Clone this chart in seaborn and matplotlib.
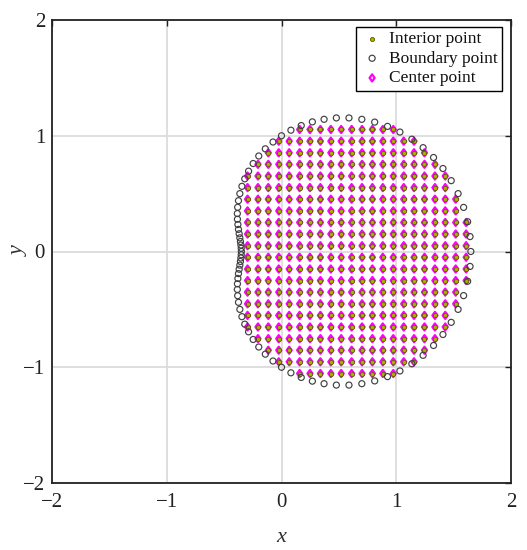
import numpy as np
import pandas as pd
import matplotlib
matplotlib.use("Agg")
import matplotlib.pyplot as plt
import seaborn as sns
from matplotlib.path import Path

# ---- data ----
boundary_x = [1.650, 1.643, 1.622, 1.587, 1.539, 1.479, 1.407, 1.325, 1.234, 1.136,
              1.032, 0.924, 0.812, 0.700, 0.588, 0.478, 0.371, 0.269, 0.172, 0.082,
              0.000, -0.074, -0.141, -0.198, -0.247, -0.287, -0.320, -0.345, -0.363, -0.375,
              -0.382, -0.385, -0.384, -0.380, -0.375, -0.369, -0.363, -0.358, -0.354, -0.351,
              -0.350, -0.351, -0.354, -0.358, -0.363, -0.369, -0.375, -0.380, -0.384, -0.385,
              -0.382, -0.375, -0.363, -0.345, -0.320, -0.287, -0.247, -0.198, -0.141, -0.074,
              0.000, 0.082, 0.172, 0.269, 0.371, 0.478, 0.588, 0.700, 0.812, 0.924,
              1.032, 1.136, 1.234, 1.325, 1.407, 1.479, 1.539, 1.587, 1.622, 1.643]
boundary_y = [0.000, 0.129, 0.257, 0.381, 0.500, 0.612, 0.717, 0.812, 0.897, 0.970,
              1.032, 1.081, 1.118, 1.142, 1.154, 1.154, 1.142, 1.120, 1.088, 1.048,
              1.000, 0.946, 0.887, 0.825, 0.760, 0.694, 0.628, 0.563, 0.500, 0.439,
              0.382, 0.328, 0.279, 0.233, 0.191, 0.153, 0.118, 0.086, 0.056, 0.028,
              0.000, -0.028, -0.056, -0.086, -0.118, -0.153, -0.191, -0.233, -0.279, -0.328,
              -0.382, -0.439, -0.500, -0.563, -0.628, -0.694, -0.760, -0.825, -0.887, -0.946,
              -1.000, -1.048, -1.088, -1.120, -1.142, -1.154, -1.154, -1.142, -1.118, -1.081,
              -1.032, -0.970, -0.897, -0.812, -0.717, -0.612, -0.500, -0.381, -0.257, -0.129]

grid_x = [-0.296, -0.205, -0.115, -0.024, 0.067, 0.158, 0.248, 0.339, 0.430, 0.520,
          0.611, 0.702, 0.792, 0.883, 0.974, 1.065, 1.155, 1.246, 1.337, 1.427,
          1.518, 1.609]
grid_y = [-1.054, -0.953, -0.853, -0.753, -0.652, -0.552, -0.452, -0.351, -0.251, -0.151,
          -0.050, 0.050, 0.151, 0.251, 0.351, 0.452, 0.552, 0.652, 0.753, 0.853,
          0.953, 1.054]

ticks = [-2, -1, 0, 1, 2]
labels = ["Interior point", "Boundary point", "Center point"]

# ---- build tables ----
bnd = pd.DataFrame({"x": boundary_x, "y": boundary_y})
poly = Path(np.column_stack([boundary_x, boundary_y]))
gx, gy = np.meshgrid(grid_x, grid_y)
pts = np.column_stack([gx.ravel(), gy.ravel()])
inside = poly.contains_points(pts)
interior = pd.DataFrame(pts[inside], columns=["x", "y"])

sns.set_theme(style="white")
plt.rcParams["font.family"] = ["Liberation Serif", "DejaVu Serif"]

fig = plt.figure(figsize=(5.27, 5.5), dpi=100)
ax = fig.add_axes([52 / 527, (550 - 483) / 550, 459 / 527, 463 / 550])

diamond = Path([(0, 1), (0.72, 0), (0, -1), (-0.72, 0), (0, 1)],
               [Path.MOVETO, Path.LINETO, Path.LINETO, Path.LINETO, Path.CLOSEPOLY])

sns.scatterplot(data=interior, x="x", y="y", ax=ax, marker="o", s=9,
                color="#b0b000", edgecolor="#5e5e00", linewidth=0.6,
                label=labels[0], zorder=3)
c_int = ax.collections[-1]

sns.scatterplot(data=bnd, x="x", y="y", ax=ax, marker="o", s=19,
                color="white", edgecolor="#404040", linewidth=0.85,
                label=labels[1], zorder=4)
c_bnd = ax.collections[-1]
c_bnd.set_facecolor("none")
c_bnd.set_edgecolor("#404040")

sns.scatterplot(data=interior, x="x", y="y", ax=ax, marker=diamond, s=26,
                color="white", edgecolor="#ff00ff", linewidth=1.6,
                label=labels[2], zorder=2)
c_cen = ax.collections[-1]
c_cen.set_facecolor("none")
c_cen.set_edgecolor("#ff00ff")

ax.set_xlim(-2, 2)
ax.set_ylim(-2, 2)
ax.set_xticks(ticks)
ax.set_yticks(ticks)
ax.set_xticklabels(["\u22122", "\u22121", "0", "1", "2"])
ax.set_yticklabels(["\u22122", "\u22121", "0", "1", "2"])
ax.grid(True, color="#dcdcdc", linewidth=1.3)
ax.set_axisbelow(True)
for sp in ax.spines.values():
    sp.set_color("#222222")
    sp.set_linewidth(1.3)
ax.tick_params(axis="both", direction="in", length=4, width=1, colors="#222222",
               labelsize=15, top=True, right=True, labelcolor="#222222")
ax.tick_params(axis="x", pad=7)
ax.tick_params(axis="y", pad=5)
ax.set_xlabel("x", fontsize=16, style="italic", labelpad=12, color="#333333")
ax.set_ylabel("y", fontsize=16, style="italic", labelpad=-4, color="#333333")

leg = ax.legend([c_int, c_bnd, c_cen], labels, loc="upper right",
                bbox_to_anchor=((501.7 - 52) / 459, 1 - (26.7 - 20) / 463),
                borderaxespad=0, frameon=True, fancybox=False, framealpha=1,
                edgecolor="black", fontsize=12.5, handletextpad=0.3,
                borderpad=0.25, labelspacing=0.2, handlelength=1.3,
                markerscale=1.0)
leg.get_frame().set_linewidth(1.0)
for t in leg.get_texts():
    t.set_color("#111111")

fig.savefig("out.png", dpi=100, facecolor="white")
